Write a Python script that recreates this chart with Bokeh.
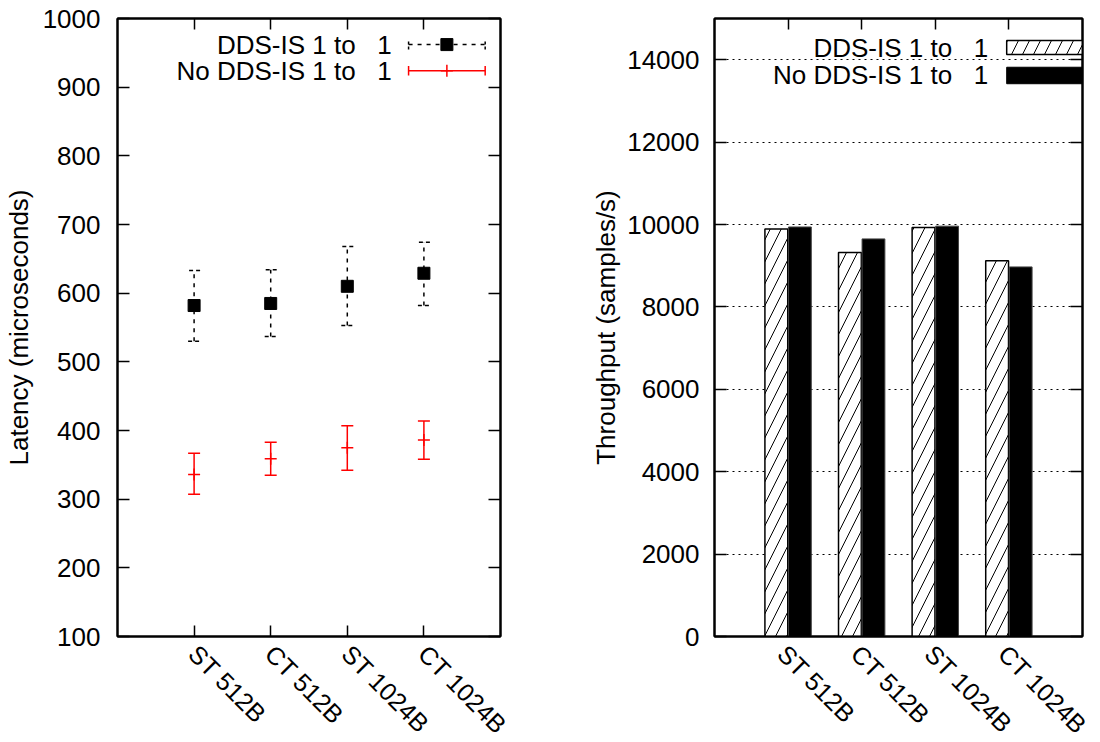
import math
from bokeh.plotting import figure
from bokeh.models import (ColumnDataSource, Range1d, Whisker, TeeHead,
                          LinearAxis, FixedTicker, Label)
from bokeh.layouts import row
from bokeh.transform import dodge
from bokeh.embed import file_html
from bokeh.resources import INLINE

# ---------------- data ----------------
categories = ["ST 512B", "CT 512B", "ST 1024B", "CT 1024B"]
NB = "\u00a0"
series_names = ["DDS-IS 1 to" + NB * 3 + "1", "No DDS-IS 1 to" + NB * 3 + "1"]

# latency (microseconds): mean, lower, upper
dds_latency = [582, 585, 610, 629]
dds_low = [530, 537, 553, 582]
dds_high = [633, 634, 668, 674]
nodds_latency = [336, 359, 375, 386]
nodds_low = [307, 335, 342, 358]
nodds_high = [367, 383, 407, 414]

# throughput (samples/s)
dds_throughput = [9890, 9320, 9930, 9120]
nodds_throughput = [9940, 9650, 9960, 8970]

lat_ticks = [100, 200, 300, 400, 500, 600, 700, 800, 900, 1000]
thr_ticks = [0, 2000, 4000, 6000, 8000, 10000, 12000, 14000]

# ---------------- style ----------------
FONT = "Liberation Sans"
FS = "26px"
FS_CAT = "25px"
positions = list(range(len(categories)))


def plain_axis(ticks, tick_len):
    return LinearAxis(ticker=FixedTicker(ticks=ticks),
                      major_label_text_font_size="1px", major_label_text_color=None,
                      major_label_standoff=0,
                      major_tick_in=tick_len, major_tick_out=0,
                      major_tick_line_width=1.5, axis_line_width=2,
                      minor_tick_line_color=None)


def build(p, yticks, ylabel, tick_standoff, label_standoff, cat_dx,
          tick_len_x=11, tick_len_y=12, bottom_ticks=True):
    p.outline_line_color = "black"
    p.outline_line_width = 2
    p.xaxis.visible = False
    p.add_layout(plain_axis(positions, tick_len_x if bottom_ticks else 0), "below")
    p.yaxis.ticker = FixedTicker(ticks=yticks)
    p.yaxis.axis_label = ylabel
    ax = p.yaxis[0]
    ax.axis_line_width = 2
    ax.major_tick_line_width = 1.5
    ax.major_tick_out = 0
    ax.major_tick_in = tick_len_y
    ax.minor_tick_line_color = None
    ax.major_label_text_font = FONT
    ax.major_label_text_font_size = FS
    ax.major_label_text_color = "black"
    ax.major_label_standoff = tick_standoff
    ax.axis_label_text_font = FONT
    ax.axis_label_text_font_size = FS
    ax.axis_label_text_font_style = "normal"
    ax.axis_label_text_color = "black"
    ax.axis_label_standoff = label_standoff
    p.add_layout(plain_axis(positions, tick_len_x), "above")
    p.add_layout(plain_axis(yticks, tick_len_y), "right")
    # rotated category labels below the frame (placed in the bottom panel so
    # that they are not clipped by the frame)
    y0 = p.y_range.start
    for i, c in zip(positions, categories):
        p.add_layout(Label(x=i, y=y0, y_offset=-13, x_offset=cat_dx, text=c,
                           angle=-math.pi / 4, text_align="left",
                           text_baseline="middle", text_font=FONT,
                           text_font_size=FS_CAT, text_color="black"), "below")


def legend_label(p, x, y, text):
    p.add_layout(Label(x=x, y=y, text=text, text_align="right",
                       text_baseline="middle", text_font=FONT, text_font_size=FS,
                       text_color="black"))


# ---------------- left: latency ----------------
p1 = figure(frame_width=383, frame_height=618,
            x_range=Range1d(-1, len(categories)), y_range=Range1d(100, 1000),
            output_backend="svg", toolbar_location=None,
            min_border_left=109, min_border_right=48,
            min_border_top=18, min_border_bottom=104)
build(p1, lat_ticks, "Latency (microseconds)", 17, 6, -1)
p1.grid.visible = False

src_lat = ColumnDataSource(dict(x=positions, dds=dds_latency, dlo=dds_low, dhi=dds_high,
                                nod=nodds_latency, nlo=nodds_low, nhi=nodds_high))

p1.add_layout(Whisker(source=src_lat, base="x", lower="dlo", upper="dhi",
                      dimension="height", line_color="black", line_width=1.5,
                      line_dash="4 5",
                      upper_head=TeeHead(size=12, line_color="black", line_width=1.5, line_dash="4 3"),
                      lower_head=TeeHead(size=12, line_color="black", line_width=1.5, line_dash="4 3")))
p1.scatter("x", "dds", source=src_lat, marker="square", size=12,
           fill_color="black", line_color="black")

p1.add_layout(Whisker(source=src_lat, base="x", lower="nlo", upper="nhi",
                      dimension="height", line_color="red", line_width=1.5,
                      upper_head=TeeHead(size=12, line_color="red", line_width=1.5),
                      lower_head=TeeHead(size=12, line_color="red", line_width=1.5)))
p1.scatter("x", "nod", source=src_lat, marker="cross", size=12,
           line_color="red", line_width=1.5)

# legend (layout positions in data units of the fixed ranges)
lx_text, lx0, lx1 = 2.58, 2.80, 3.80
ly = [962, 924]
cap = 7
legend_label(p1, lx_text, ly[0], series_names[0])
legend_label(p1, lx_text, ly[1], series_names[1])
p1.segment(x0=[lx0], y0=[ly[0]], x1=[lx1], y1=[ly[0]], line_color="black",
           line_width=1.5, line_dash="4 5")
p1.segment(x0=[lx0, lx1], y0=[ly[0] - cap] * 2, x1=[lx0, lx1], y1=[ly[0] + cap] * 2,
           line_color="black", line_width=1.5, line_dash="3 2")
p1.scatter(x=[(lx0 + lx1) / 2], y=[ly[0]], marker="square", size=12,
           fill_color="black", line_color="black")
p1.segment(x0=[lx0], y0=[ly[1]], x1=[lx1], y1=[ly[1]], line_color="red", line_width=1.5)
p1.segment(x0=[lx0, lx1], y0=[ly[1] - cap] * 2, x1=[lx0, lx1], y1=[ly[1] + cap] * 2,
           line_color="red", line_width=1.5)
p1.scatter(x=[(lx0 + lx1) / 2], y=[ly[1]], marker="cross", size=12,
           line_color="red", line_width=1.5)

# ---------------- right: throughput ----------------
p2 = figure(frame_width=368, frame_height=618,
            x_range=Range1d(-1, len(categories)), y_range=Range1d(0, 15000),
            output_backend="svg", toolbar_location=None,
            min_border_left=166, min_border_right=10,
            min_border_top=18, min_border_bottom=104)
build(p2, thr_ticks, "Throughput (samples/s)", 15, 3, -6, bottom_ticks=False)
p2.xgrid.visible = False
p2.ygrid.ticker = FixedTicker(ticks=thr_ticks)
p2.ygrid.grid_line_color = "black"
p2.ygrid.grid_line_width = 1
p2.ygrid.grid_line_dash = "2 4"

src_thr = ColumnDataSource(dict(x=positions, dds=dds_throughput, nod=nodds_throughput))
p2.vbar(x=dodge("x", -0.16, range=p2.x_range), top="dds", width=0.31, source=src_thr,
        fill_color="white", line_color="black", line_width=1.5,
        hatch_pattern="/", hatch_color="black", hatch_scale=22, hatch_weight=1)
p2.vbar(x=dodge("x", 0.16, range=p2.x_range), top="nod", width=0.31, source=src_thr,
        fill_color="black", line_color="#444444", line_width=1)

rx_text, rx0, rx1 = 2.72, 2.97, 4.2
ry = [14296, 13617]
bh = 170
legend_label(p2, rx_text, ry[0], series_names[0])
legend_label(p2, rx_text, ry[1], series_names[1])
p2.quad(left=[rx0], right=[rx1], bottom=[ry[0] - bh], top=[ry[0] + bh],
        fill_color="white", line_color="black", line_width=1.5,
        hatch_pattern="/", hatch_color="black", hatch_scale=22, hatch_weight=1)
p2.quad(left=[rx0], right=[rx1], bottom=[ry[1] - bh - 30], top=[ry[1] + bh + 30],
        fill_color="black", line_color="black")

layout = row(p1, p2)
open("out.html", "w").write(file_html(layout, INLINE))
